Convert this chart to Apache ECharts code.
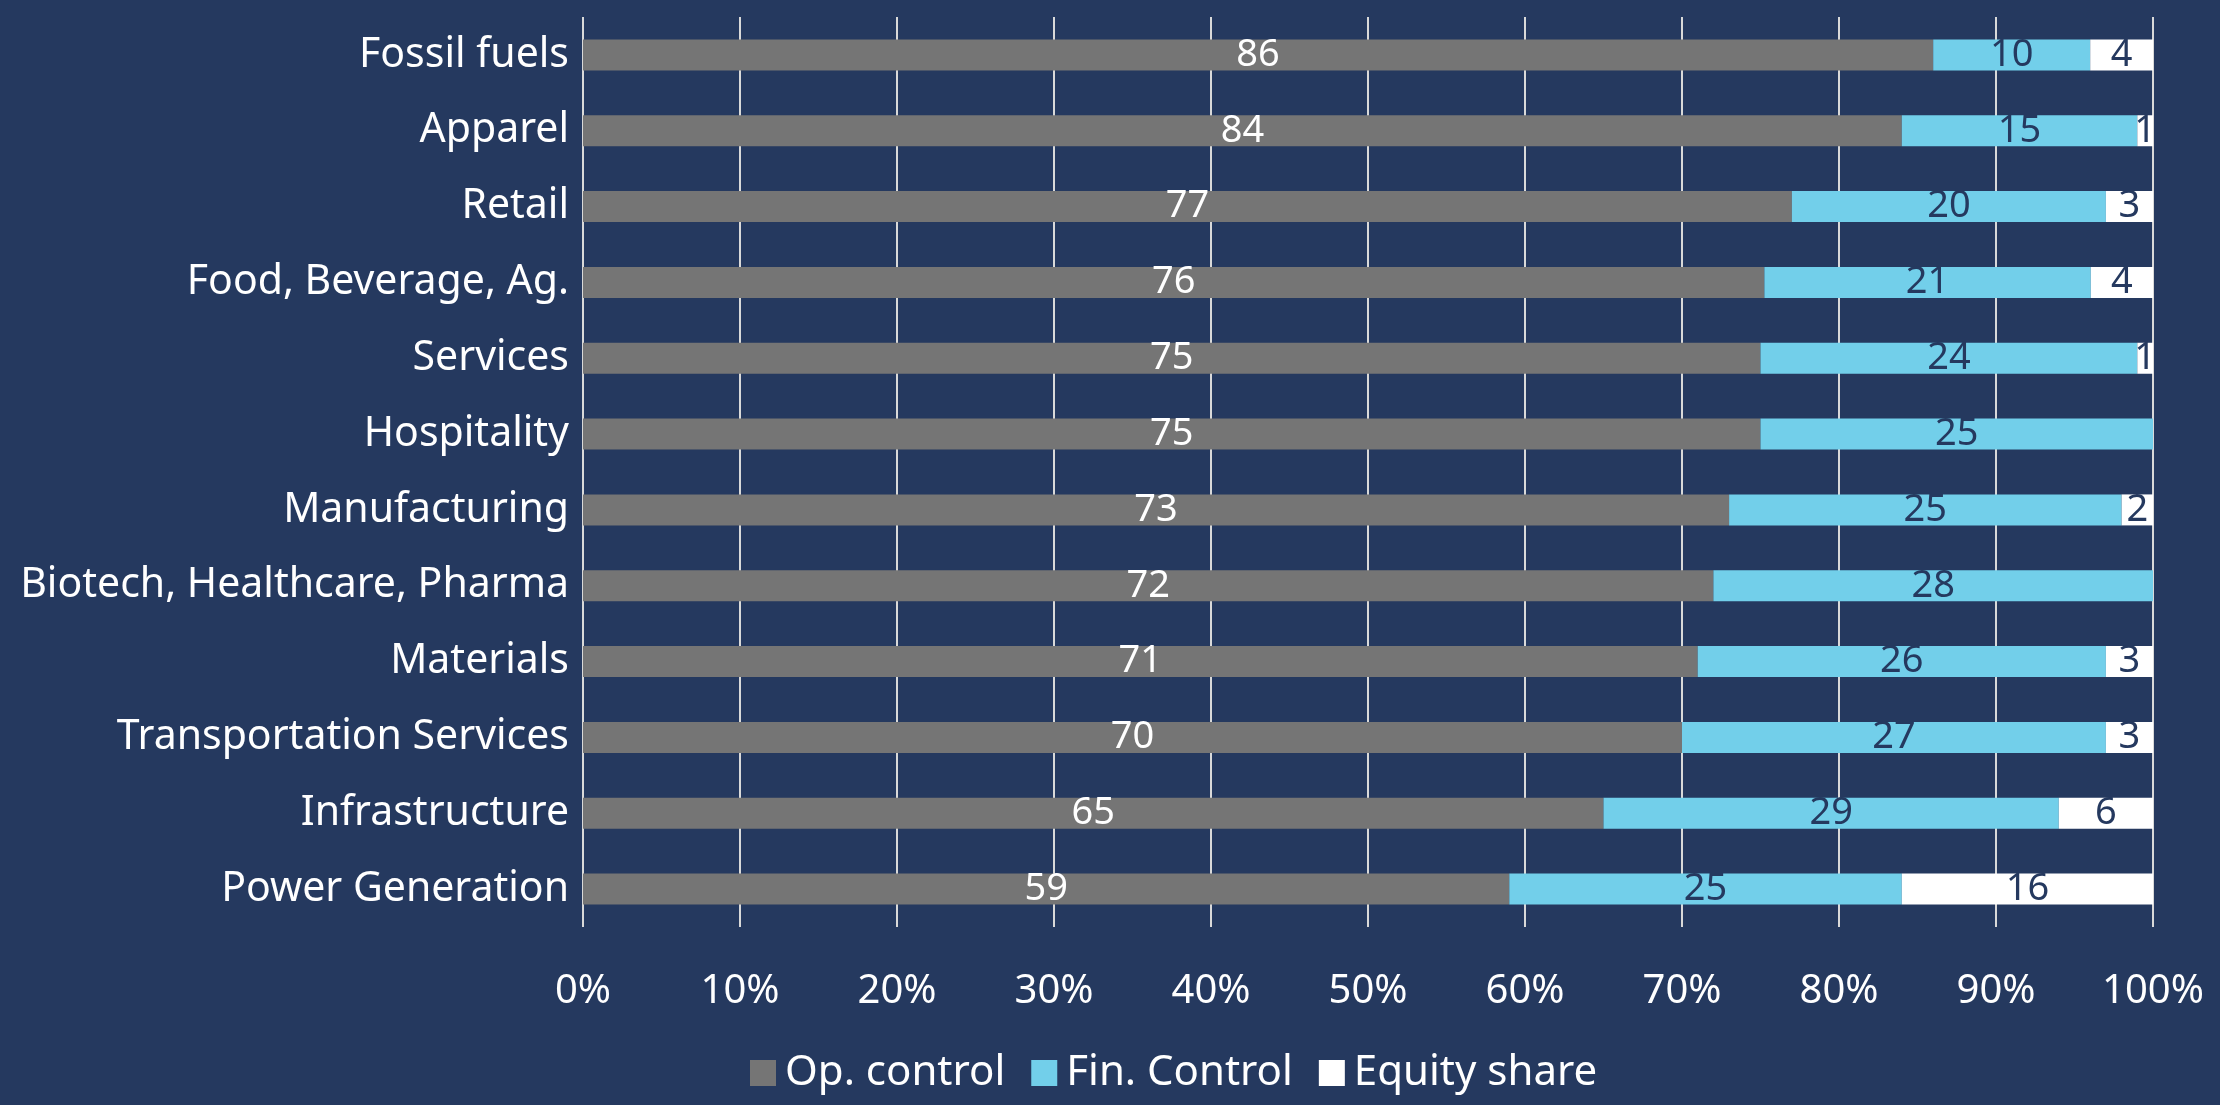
<!DOCTYPE html>
<html>
<head>
<meta charset="utf-8">
<script src="https://cdn.jsdelivr.net/npm/echarts@6/dist/echarts.min.js"></script>
<style>
  html, body { margin: 0; padding: 0; background: #25395f; }
  #chart { width: 2220px; height: 1105px; }
</style>
</head>
<body>
<div id="chart"></div>
<script>
// sectors, top to bottom
const sectors = [
  'Fossil fuels', 'Apparel', 'Retail', 'Food, Beverage, Ag.', 'Services', 'Hospitality',
  'Manufacturing', 'Biotech, Healthcare, Pharma', 'Materials', 'Transportation Services',
  'Infrastructure', 'Power Generation',
];

const opControl = [86, 84, 77, 76, 75, 75, 73, 72, 71, 70, 65, 59];
const finControl = [10, 15, 20, 21, 24, 25, 25, 28, 26, 27, 29, 25];
const equityShare = [4, 1, 3, 4, 1, 0, 2, 0, 3, 3, 6, 16];

const ticks = [0, 10, 20, 30, 40, 50, 60, 70, 80, 90, 100];

const FONT = '"Noto Sans", sans-serif';
const NAVY = '#25395f';

// 100% stacked: each row is scaled to its own total
const rowTotal = sectors.map((s, i) => opControl[i] + finControl[i] + equityShare[i]);
const toPct = (arr) => arr.map((v, i) => ({ value: (v / rowTotal[i]) * 100, raw: v }));

const makeSeries = (name, arr, color, labelColor) => ({
  name,
  type: 'bar',
  stack: 'total',
  barWidth: 31,
  data: toPct(arr),
  itemStyle: { color },
  label: {
    show: true,
    position: 'inside',
    color: labelColor,
    fontFamily: FONT,
    fontSize: 38,
    formatter: (p) => (p.data.raw ? String(p.data.raw) : ''),
  },
});

const chart = echarts.init(document.getElementById('chart'));

chart.setOption({
  backgroundColor: NAVY,
  animation: false,
  grid: { left: 583, right: 67, top: 17, bottom: 178 },
  legend: {
    left: 750,
    top: 1052,
    padding: 0,
    itemGap: 26,
    itemWidth: 26,
    itemHeight: 26,
    icon: 'rect',
    textStyle: { color: '#fff', fontFamily: FONT, fontSize: 42, padding: [0, 0, 0, 4] },
    data: ['Op. control', 'Fin. Control', 'Equity share'],
  },
  xAxis: {
    type: 'value',
    min: ticks[0],
    max: ticks[ticks.length - 1],
    interval: 10,
    axisLine: { show: false },
    axisTick: { show: false },
    splitLine: { show: true, lineStyle: { color: '#d9d9d9', width: 2 } },
    axisLabel: {
      color: '#fff',
      fontFamily: FONT,
      fontSize: 40,
      margin: 45,
      formatter: (v) => v + '%',
    },
  },
  yAxis: {
    type: 'category',
    inverse: true,
    data: sectors,
    axisLine: { show: false },
    axisTick: { show: false },
    axisLabel: { color: '#fff', fontFamily: FONT, fontSize: 41, margin: 14 },
  },
  series: [
    makeSeries('Op. control', opControl, '#757575', '#fff'),
    makeSeries('Fin. Control', finControl, '#72cfea', NAVY),
    makeSeries('Equity share', equityShare, '#ffffff', NAVY),
  ],
});
</script>
</body>
</html>
